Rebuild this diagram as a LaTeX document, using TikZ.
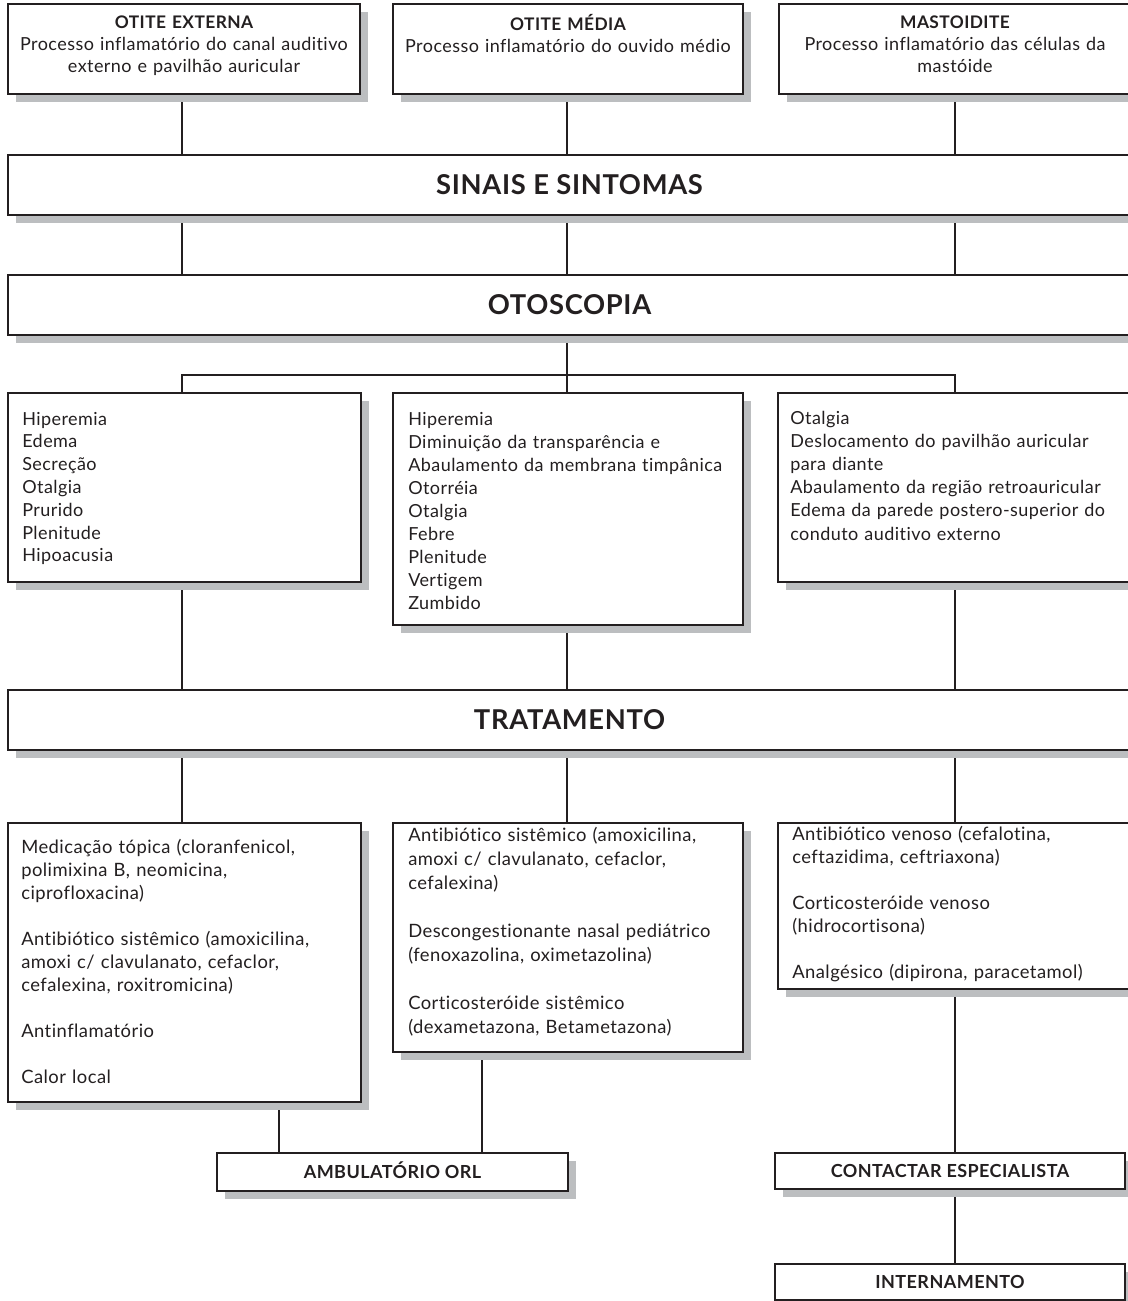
\documentclass[tikz,border=0pt]{standalone}
\usepackage{fontspec}
\setmainfont{Lato}[Ligatures=CommonOff, LetterSpace=2.5]
\newfontfamily\treatfont{Lato}[Ligatures=CommonOff, LetterSpace=2.5, WordSpace=2.6]
\usetikzlibrary{shadows,backgrounds,fit}
\definecolor{ink}{HTML}{231F20}
\definecolor{shade}{HTML}{BCBEC0}
\newcommand\bodyfont{\fontsize{13.5}{17.1}\selectfont}
\newcommand\hd[1]{{\fontsize{13}{16}\selectfont\bfseries #1}}
\tikzset{
  x=0.75pt, y=-0.75pt,
  box/.style={draw=ink, line width=1.5pt, fill=white, inner sep=0pt, rectangle,
     drop shadow={shadow xshift=6pt, shadow yshift=-6pt, fill=shade, opacity=1}},
  widebox/.style={box, minimum width=842.25pt, minimum height=45pt, text height=14.5pt, text depth=0pt,
     font=\fontsize{20.5}{24}\selectfont\bfseries, text=ink},
  endbox/.style={box, minimum width=262.5pt, minimum height=27.5pt, text height=9.6pt, text depth=0pt,
     font=\fontsize{13.5}{16}\selectfont\bfseries, text=ink},
  toptext/.style={anchor=base, inner sep=0pt, align=center, text width=262pt, text=ink, font=\fontsize{13.5}{16.2}\selectfont},
  list/.style={anchor=base west, inner sep=0pt, align=left, text width=262pt, text=ink, font=\bodyfont},
  treat/.style={list, font=\treatfont\fontsize{13.8}{#1}\selectfont},
  conn/.style={draw=ink, line width=1.5pt},
}
\begin{document}
\begin{tikzpicture}
\useasboundingbox (0,0) rectangle (1127,1301);
\coordinate (cA) at (182,0);
\coordinate (cB) at (567,0);
\coordinate (cC) at (955,0);
\coordinate (bl) at (182,375);
\coordinate (brr) at (955,375);
\coordinate (dA) at (279,0);
\coordinate (dB) at (482,0);

% top row
\node[box, fit={(8,4) (360,94)}] (ext) {};
\node[box, fit={(393,4) (743,94)}] (med) {};
\node[box, fit={(779,4) (1131,94)}] (mas) {};
\node[toptext] (extT) at (184,29) {\hd{OTITE EXTERNA}\\Processo inflamatório do canal auditivo\\externo e pavilhão auricular};
\node[toptext] (medT) at (568,31) {\hd{OTITE MÉDIA}\\Processo inflamatório do ouvido médio};
\node[toptext] (masT) at (955,29) {\hd{MASTOIDITE}\\Processo inflamatório das células da\\mastóide};

% wide boxes
\node[widebox] (sinais) at (569.5,185) {SINAIS E SINTOMAS};
\node[widebox] (otos) at (569.5,305) {OTOSCOPIA};

% otoscopy findings
\node[box, fit={(8,393) (361,582)}] (o1) {};
\node[box, fit={(393,393) (743,625)}] (o2) {};
\node[box, fit={(778,393) (1131,582)}] (o3) {};
\node[list] (o1T) at (22,425) {Hiperemia\\Edema\\Secreção\\Otalgia\\Prurido\\Plenitude\\Hipoacusia};
\node[list, font=\fontsize{13.5}{17.25}\selectfont] (o2T) at (408,425) {Hiperemia\\Diminuição da transparência e\\Abaulamento da membrana timpânica\\Otorréia\\Otalgia\\Febre\\Plenitude\\Vertigem\\Zumbido};
\node[list, font=\fontsize{13.5}{17.4}\selectfont] (o3T) at (790,424) {Otalgia\\Deslocamento do pavilhão auricular\\para diante\\Abaulamento da região retroauricular\\Edema da parede postero-superior do\\conduto auditivo externo};

\node[widebox] (trat) at (569.5,720) {TRATAMENTO};

% treatments
\node[box, fit={(8,823) (361,1102)}] (t1) {};
\node[box, fit={(393,823) (743,1052)}] (t2) {};
\node[box, fit={(778,823) (1131,989)}] (t3) {};
\node[treat=17.25] (t1T) at (21,853) {Medicação tópica (cloranfenicol,\\polimixina B, neomicina,\\ciprofloxacina)\\[\baselineskip]Antibiótico sistêmico (amoxicilina,\\amoxi c/ clavulanato, cefaclor,\\cefalexina, roxitromicina)\\[\baselineskip]Antinflamatório\\[\baselineskip]Calor local};
\node[treat=18] (t2T) at (408,841) {Antibiótico sistêmico (amoxicilina,\\amoxi c/ clavulanato, cefaclor,\\cefalexina)\\[\baselineskip]Descongestionante nasal pediátrico\\(fenoxazolina, oximetazolina)\\[\baselineskip]Corticosteróide sistêmico\\(dexametazona, Betametazona)};
\node[treat=17.25] (t3T) at (792,840) {Antibiótico venoso (cefalotina,\\ceftazidima, ceftriaxona)\\[\baselineskip]Corticosteróide venoso\\(hidrocortisona)\\[\baselineskip]Analgésico (dipirona, paracetamol)};

% destinations
\node[endbox, minimum width=263.25pt, minimum height=28.5pt] (amb) at (392.5,1172) {AMBULATÓRIO ORL};
\node[endbox] (cont) at (950,1171) {CONTACTAR ESPECIALISTA};
\node[endbox] (intern) at (950,1282) {INTERNAMENTO};

\begin{scope}[on background layer]
\draw[conn] (ext.south -| cA) -- (sinais.north -| cA);
\draw[conn] (med.south -| cB) -- (sinais.north -| cB);
\draw[conn] (mas.south -| cC) -- (sinais.north -| cC);
\draw[conn] (sinais.south -| cA) -- (otos.north -| cA);
\draw[conn] (sinais.south -| cB) -- (otos.north -| cB);
\draw[conn] (sinais.south -| cC) -- (otos.north -| cC);
\draw[conn] (otos.south -| cB) -- (o2.north -| cB);
\draw[conn] (o1.north -| bl) -- (bl) -- (brr) -- (o3.north -| brr);
\draw[conn] (o1.south -| cA) -- (trat.north -| cA);
\draw[conn] (o2.south -| cB) -- (trat.north -| cB);
\draw[conn] (o3.south -| cC) -- (trat.north -| cC);
\draw[conn] (trat.south -| cA) -- (t1.north -| cA);
\draw[conn] (trat.south -| cB) -- (t2.north -| cB);
\draw[conn] (trat.south -| cC) -- (t3.north -| cC);
\draw[conn] (t1.south -| dA) -- (amb.north -| dA);
\draw[conn] (t2.south -| dB) -- (amb.north -| dB);
\draw[conn] (t3.south -| cC) -- (cont.north -| cC);
\draw[conn] (cont.south -| cC) -- (intern.north -| cC);
\end{scope}
\end{tikzpicture}
\end{document}
